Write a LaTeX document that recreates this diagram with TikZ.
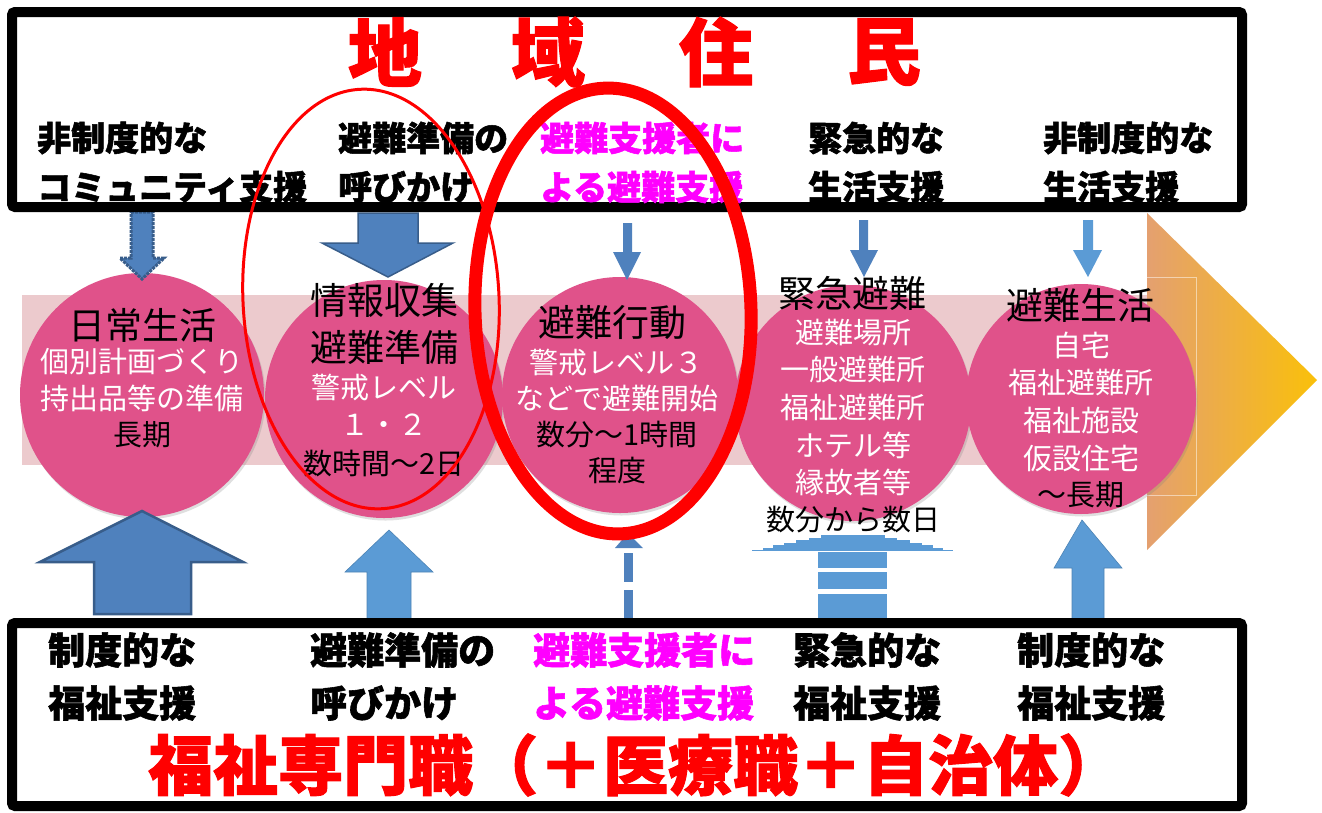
\documentclass[tikz,border=0pt]{standalone}
\usepackage{fontspec}
\newfontfamily\jp{Noto Sans CJK JP}
\newfontfamily\jph{Noto Sans CJK JP}[BoldFeatures={FakeBold=1.5}]
\usetikzlibrary{shadows}
\definecolor{pinkc}{RGB}{224,82,138}
\definecolor{bandc}{RGB}{236,202,205}
\definecolor{dblue}{RGB}{79,129,189}
\definecolor{dblueline}{RGB}{56,93,138}
\definecolor{lblue}{RGB}{91,155,213}
\definecolor{mag}{RGB}{255,0,255}
\definecolor{orA}{RGB}{228,160,112}
\definecolor{orB}{RGB}{250,192,10}
\begin{document}
\begin{tikzpicture}[x=1pt,y=-1pt,
  hd/.style={font=\jp\fontsize{37}{37}\selectfont, inner sep=0pt, text=black},
  bd/.style={font=\jp\fontsize{29}{29}\selectfont, inner sep=0pt, text=white},
  bdk/.style={bd, text=black},
  lab/.style={font=\jph\bfseries\fontsize{34}{34}\selectfont, inner sep=0pt, anchor=west},
  blab/.style={font=\jph\bfseries\fontsize{37}{37}\selectfont, inner sep=0pt, anchor=west},
  ttl/.style={font=\jph\bfseries\fontsize{74}{74}\selectfont, inner sep=0pt, text=red},
  circ/.style={circle, fill=pinkc, draw=none, inner sep=0pt, drop shadow={opacity=0.25, shadow xshift=1.5pt, shadow yshift=-2.5pt}},
  frame/.style={draw=black, line width=10pt, rounded corners=3pt},
  darr/.style={fill=dblue, draw=dblueline, line width=1.5pt},
  larr/.style={fill=lblue, draw=lblue!85!black, line width=0.6pt},
]
\useasboundingbox (0,0) rectangle (1322,812);
\fill[white] (0,0) rectangle (1322,812);

% band and big arrow
\fill[bandc] (22,295) rectangle (1147,465);
\shade[left color=orA, right color=orB] (1147,213) -- (1317,380) -- (1147,550) -- cycle;
\draw[white, opacity=0.5, line width=0.8pt] (1147,277) -- (1196,277) -- (1196,495) -- (1147,495);

% circles
\node[circ, minimum size=244pt] (c1) at (142,395) {};
\node[circ, minimum size=238pt] (c2) at (384,399) {};
\node[circ, minimum size=236pt] (c3) at (620,395) {};
\node[circ, minimum size=236pt] (c4) at (853,403) {};
\node[circ, minimum size=230pt] (c5) at (1081,399) {};

% circle texts
\node[hd]  (c1a) at (142,325) {日常生活};
\node[bd]  (c1b) at (142,362) {個別計画づくり};
\node[bd]  (c1c) at (142,398) {持出品等の準備};
\node[bdk] (c1d) at (142,435) {長期};

\node[hd]  (c2a) at (384,300) {情報収集};
\node[hd]  (c2b) at (384,347) {避難準備};
\node[bd]  (c2c) at (384,387) {警戒レベル};
\node[bd]  (c2d) at (384,425) {１・２};
\node[bdk] (c2e) at (384,463) {数時間～2日};

\node[hd]  (c3a) at (612,323) {避難行動};
\node[bd]  (c3b) at (616,362) {警戒レベル３};
\node[bd]  (c3c) at (617,398) {などで避難開始};
\node[bdk] (c3d) at (617,435) {数分～1時間};
\node[bdk] (c3e) at (617,470) {程度};

\node[hd]  (c4a) at (852,293) {緊急避難};
\node[bd]  (c4b) at (853,333) {避難場所};
\node[bd]  (c4c) at (853,370) {一般避難所};
\node[bd]  (c4d) at (853,408) {福祉避難所};
\node[bd]  (c4e) at (853,445) {ホテル等};
\node[bd]  (c4f) at (853,482) {縁故者等};
\node[bdk] (c4g) at (853,520) {数分から数日};

\node[hd]  (c5a) at (1080,305) {避難生活};
\node[bd]  (c5b) at (1081,345) {自宅};
\node[bd]  (c5c) at (1081,383) {福祉避難所};
\node[bd]  (c5d) at (1081,420) {福祉施設};
\node[bd]  (c5e) at (1081,458) {仮設住宅};
\node[bdk] (c5f) at (1081,495) {～長期};

% top arrows (down)
\filldraw[fill=dblue, draw=dblueline, line width=3pt, densely dotted]
  (131,212) -- (153,212) -- (153,258) -- (164,258) -- (142,279) -- (120,258) -- (131,258) -- cycle;
\filldraw[darr] (358,213) -- (418,213) -- (418,243) -- (453,243) -- (388,277) -- (322,243) -- (358,243) -- cycle;
\fill[dblue] (623,223) -- (632,223) -- (632,252) -- (641,252) -- (627,280) -- (613,252) -- (623,252) -- cycle;
\fill[dblue] (859,220) -- (868,220) -- (868,250) -- (878,250) -- (864,277) -- (850,250) -- (859,250) -- cycle;
\fill[lblue] (1083,220) -- (1093,220) -- (1093,250) -- (1102,250) -- (1088,277) -- (1073,250) -- (1083,250) -- cycle;

% bottom arrows (up)
\filldraw[fill=dblue, draw=dblueline, line width=2.5pt] (94,614) -- (94,562) -- (40,562) -- (142,511) -- (243,562) -- (191,562) -- (191,614) -- cycle;
\filldraw[larr] (367,620) -- (367,572) -- (345,572) -- (389,530) -- (433,572) -- (411,572) -- (411,620) -- cycle;
\fill[dblue] (615,548) -- (628,533) -- (643,548) -- cycle;
\fill[dblue] (624,553) rectangle (633,582);
\fill[dblue] (624,590) rectangle (633,620);
\foreach \i/\w in {0/90,1/80,2/69,3/57,4/44,5/32}
  \fill[lblue] (853-\w,550-2.5*\i) rectangle (853+\w,547.5-2.5*\i);
\draw[lblue, line width=1pt] (752,550.5) -- (953,550.5);
\fill[lblue] (818,552) rectangle (887,568);
\fill[lblue] (818,572) rectangle (887,589);
\fill[lblue] (818,594) rectangle (887,620);
\filldraw[larr] (1072,620) -- (1072,568) -- (1054,568) -- (1082,520) -- (1122,568) -- (1104,568) -- (1104,620) -- cycle;

% frames
\draw[frame] (12,12) rectangle (1242,207);
\draw[frame] (12,623) rectangle (1242,806);

% top title
\node[ttl] (t1) at (385,52) {地};
\node[ttl] (t2) at (548,52) {域};
\node[ttl] (t3) at (716,52) {住};
\node[ttl] (t4) at (884,52) {民};

% top labels
\node[lab] (a1) at (37,138) {非制度的な};
\node[lab] (a2) at (37,187) {コミュニティ支援};
\node[lab] (b1) at (338,138) {避難準備の};
\node[lab] (b2) at (338,187) {呼びかけ};
\node[lab, text=mag] (d1) at (540,138) {避難支援者に};
\node[lab, text=mag] (d2) at (540,187) {よる避難支援};
\node[lab] (e1) at (808,138) {緊急的な};
\node[lab] (e2) at (808,187) {生活支援};
\node[lab] (f1) at (1043,138) {非制度的な};
\node[lab] (f2) at (1043,187) {生活支援};

% bottom labels
\node[blab] (g1) at (48,650) {制度的な};
\node[blab] (g2) at (48,703) {福祉支援};
\node[blab] (h1) at (310,650) {避難準備の};
\node[blab] (h2) at (310,703) {呼びかけ};
\node[blab, text=mag] (i1) at (533,650) {避難支援者に};
\node[blab, text=mag] (i2) at (533,703) {よる避難支援};
\node[blab] (j1) at (793,650) {緊急的な};
\node[blab] (j2) at (793,703) {福祉支援};
\node[blab] (k1) at (1017,650) {制度的な};
\node[blab] (k2) at (1017,703) {福祉支援};
\node[font=\jph\bfseries\fontsize{65}{65}\selectfont, text=red, inner sep=0pt, anchor=west] (bt) at (148,765) {福祉専門職（＋医療職＋自治体）};

% red ellipses
\draw[red, line width=3pt] (371,299) ellipse [x radius=128, y radius=210, rotate=3];
\draw[red, line width=13pt] (613,311) ellipse [x radius=138, y radius=223, rotate=2];
\end{tikzpicture}
\end{document}
